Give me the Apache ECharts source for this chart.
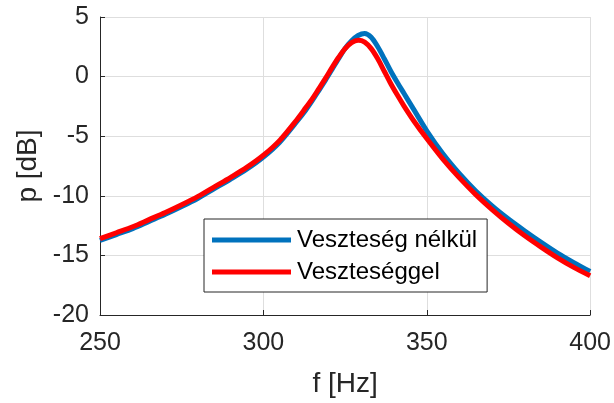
<!DOCTYPE html>
<html>
<head>
<meta charset="utf-8">
<script src="https://cdn.jsdelivr.net/npm/echarts@6/dist/echarts.min.js"></script>
<style>
  html, body { margin: 0; padding: 0; background: #ffffff; }
  #chart { width: 614px; height: 403px; }
</style>
</head>
<body>
<div id="chart"></div>
<script>
// Frequencies (Hz) at which the response is sampled (denser around the resonance)
const freqs = [250, 255, 260, 265, 270, 275, 280, 285, 290, 295, 300, 305, 310, 313, 315,
               317, 319, 321, 323, 325, 327, 329, 331, 333, 335, 337, 339, 341, 343, 346,
               350, 355, 360, 365, 370, 375, 380, 385, 390, 395, 400];

// Sound pressure level (dB), lossless model
const lossless = [-13.75, -13.25, -12.75, -12.15, -11.55, -10.9, -10.2, -9.4, -8.6, -7.75, -6.75, -5.5, -3.85, -2.8, -2.0,
                  -1.15, -0.3, 0.6, 1.5, 2.35, 3.0, 3.45, 3.62, 3.3, 2.5, 1.5, 0.45, -0.5, -1.4, -2.75,
                  -4.55, -6.5, -8.15, -9.6, -10.85, -11.95, -12.95, -13.9, -14.8, -15.6, -16.35];

// Sound pressure level (dB), model with losses
const lossy = [-13.6, -13.1, -12.6, -12.0, -11.4, -10.75, -10.05, -9.25, -8.45, -7.6, -6.6, -5.35, -3.7, -2.6, -1.85,
               -1.0, -0.15, 0.75, 1.6, 2.35, 2.85, 3.05, 2.9, 2.35, 1.5, 0.45, -0.6, -1.55, -2.45, -3.7,
               -5.2, -6.95, -8.5, -9.9, -11.15, -12.3, -13.35, -14.3, -15.2, -16.0, -16.7];

const xTicks = { min: 250, max: 400, step: 50 };
const yTicks = { min: -20, max: 5, step: 5 };

const seriesNames = ['Veszteség nélkül', 'Veszteséggel'];

const toPairs = (xs, ys) => xs.map((x, i) => [x, ys[i]]);

const textColor = '#262626';
const gridColor = '#dedede';
const fontFamily = '"Liberation Sans", Arial, Helvetica, sans-serif';

const chart = echarts.init(document.getElementById('chart'), null, { renderer: 'canvas' });

chart.setOption({
  backgroundColor: '#ffffff',
  animation: false,
  grid: { left: 100, right: 22, top: 17, bottom: 83, containLabel: false },
  legend: {
    orient: 'vertical',
    left: 204,
    top: 219,
    width: 284,
    padding: [9, 10, 8, 8],
    itemGap: 8,
    itemWidth: 79,
    itemHeight: 5,
    icon: 'rect',
    backgroundColor: '#ffffff',
    borderColor: '#262626',
    borderWidth: 1,
    borderRadius: 0,
    data: seriesNames,
    textStyle: { fontSize: 24, color: '#000000', fontFamily: fontFamily, padding: [0, 0, 0, 1] }
  },
  xAxis: {
    type: 'value',
    min: xTicks.min,
    max: xTicks.max,
    interval: xTicks.step,
    name: 'f [Hz]',
    nameLocation: 'middle',
    nameGap: 55,
    nameTextStyle: { fontSize: 28, color: textColor, fontFamily: fontFamily },
    axisLine: { show: true, onZero: false, lineStyle: { color: textColor, width: 1 } },
    axisTick: { show: true, inside: true, length: 5, lineStyle: { color: textColor } },
    axisLabel: { fontSize: 25, color: textColor, fontFamily: fontFamily, margin: 16 },
    splitLine: { show: true, lineStyle: { color: gridColor, width: 1 } }
  },
  yAxis: {
    type: 'value',
    min: yTicks.min,
    max: yTicks.max,
    interval: yTicks.step,
    name: 'p [dB]',
    nameLocation: 'middle',
    nameGap: 56,
    nameTextStyle: { fontSize: 28, color: textColor, fontFamily: fontFamily },
    axisLine: { show: true, onZero: false, lineStyle: { color: textColor, width: 1 } },
    axisTick: { show: true, inside: true, length: 5, lineStyle: { color: textColor } },
    axisLabel: { fontSize: 25, color: textColor, fontFamily: fontFamily, margin: 11 },
    splitLine: { show: true, lineStyle: { color: gridColor, width: 1 } }
  },
  series: [
    {
      name: seriesNames[0],
      type: 'line',
      data: toPairs(freqs, lossless),
      smooth: 0.3,
      showSymbol: false,
      color: '#0072BD',
      lineStyle: { width: 5, color: '#0072BD' },
      z: 2
    },
    {
      name: seriesNames[1],
      type: 'line',
      data: toPairs(freqs, lossy),
      smooth: 0.3,
      showSymbol: false,
      color: '#FF0000',
      lineStyle: { width: 5, color: '#FF0000' },
      z: 3
    }
  ]
});
</script>
</body>
</html>
